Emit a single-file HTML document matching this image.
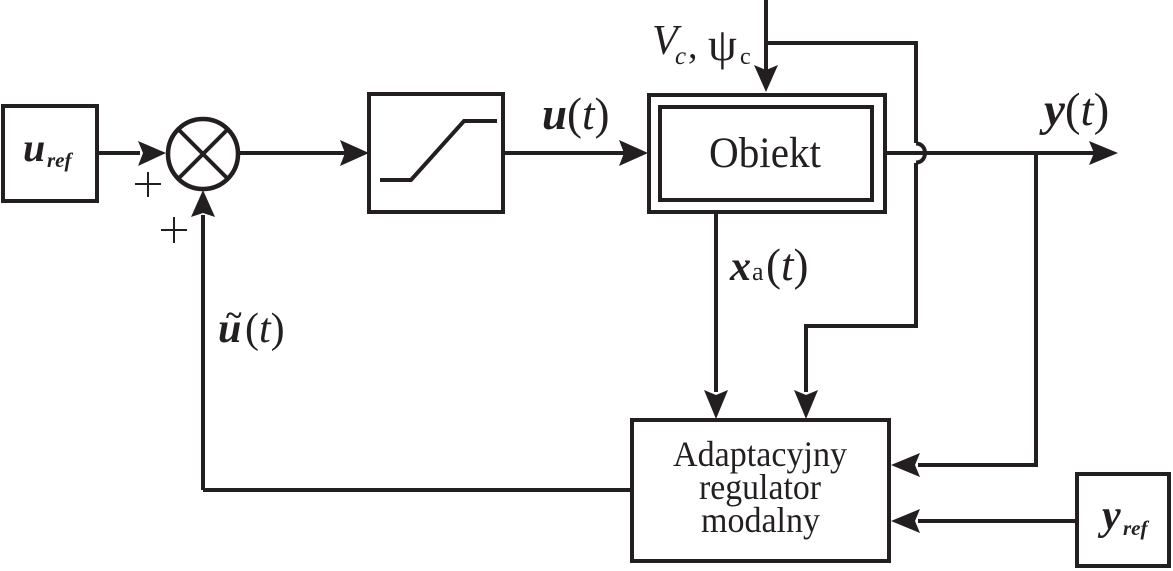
<!DOCTYPE html>
<html><head><meta charset="utf-8"><style>
html,body{margin:0;padding:0;background:#fff;width:1173px;height:571px;overflow:hidden}
svg{display:block}
text{font-family:"Liberation Serif",serif;fill:#231f20}
</style></head><body>
<svg width="1173" height="571" viewBox="0 0 1173 571" xmlns="http://www.w3.org/2000/svg">
<g fill="none" stroke="#231f20" stroke-width="4">
<rect x="3" y="106" width="94" height="95"/>
<circle cx="203" cy="154" r="35" stroke-width="4.500"/>
<path d="M179 130L227 178M227 130L179 178" stroke-width="4"/>
<rect x="369" y="94" width="134" height="118"/>
<rect x="649" y="95" width="236" height="117"/>
<rect x="660" y="107" width="212" height="93"/>
<rect x="632" y="420" width="257" height="141"/>
<rect x="1077" y="474" width="92" height="92"/>
<path d="M380 180H411L464 121H497" stroke-width="4"/>
<path d="M97 153H140M238 153H345M503 153H625M885 153H1095"/>
<path d="M766 0V70M766 43H916V143M916 163V326H806V392"/>
<path d="M916 143.500C928 143.500 928 162.500 916 162.500" stroke-width="4"/>
<path d="M716 212V392"/>
<path d="M203 490V215M203 490H632"/>
<path d="M1036 153V465H918"/>
<path d="M1077 521H918"/>
<path d="M135 184H161M148 172V197" stroke-width="2"/>
<path d="M161 230H187M174 217V243" stroke-width="2"/>
</g>
<g fill="#231f20">
<path d="M166 153L138 141L143 153L138 166Z"/>
<path d="M203 190L191 217L203 213L215 217Z"/>
<path d="M369 153L340 140L345 153L340 166Z"/>
<path d="M648 153L619 140L624 153L619 166Z"/>
<path d="M766 92L754 65L766 70L778 65Z"/>
<path d="M1118 153L1089 141L1094 153L1089 165Z"/>
<path d="M716 419L704 390L716 395L728 390Z"/>
<path d="M806 419L794 390L806 395L818 390Z"/>
<path d="M891 465L920 453L915 465L920 477Z"/>
<path d="M891 521L920 509L915 521L920 533Z"/>
</g>
<text x="23" y="161" font-size="40" font-weight="bold" font-style="italic">u</text>
<text x="47" y="167" font-size="21" font-weight="bold" font-style="italic">ref</text>
<text x="1102" y="529" font-size="42" font-weight="bold" font-style="italic">y</text>
<text x="1123" y="535" font-size="21" font-weight="bold" font-style="italic">ref</text>
<text x="542" y="129" font-size="45"><tspan font-weight="bold" font-style="italic">u</tspan>(<tspan font-style="italic">t</tspan>)</text>
<text x="1044" y="125" font-size="47"><tspan font-weight="bold" font-style="italic">y</tspan>(<tspan font-style="italic">t</tspan>)</text>
<text x="218" y="342" font-size="42" font-weight="bold" font-style="italic">u</text>
<text x="226" y="325" font-size="30" font-weight="bold">~</text>
<text x="245" y="342" font-size="42">(<tspan font-style="italic">t</tspan>)</text>
<text x="730" y="280" font-size="42" font-weight="bold" font-style="italic">x</text>
<text x="752" y="280" font-size="26">a</text>
<text x="766" y="280" font-size="45">(<tspan font-style="italic">t</tspan>)</text>
<text x="652" y="54" font-size="42" font-style="italic">V</text>
<text x="675" y="64" font-size="25" font-style="italic">c</text>
<text x="688" y="58" font-size="38">,</text>
<text x="708" y="60" font-size="46" font-family="DejaVu Serif, serif">ψ</text>
<text x="740" y="64" font-size="24">c</text>
<text x="709" y="167" font-size="43" textLength="112" lengthAdjust="spacingAndGlyphs">Obiekt</text>
<text x="673" y="466" font-size="36" textLength="174" lengthAdjust="spacingAndGlyphs">Adaptacyjny</text>
<text x="699" y="499" font-size="36" textLength="122" lengthAdjust="spacingAndGlyphs">regulator</text>
<text x="701" y="532" font-size="36" textLength="119" lengthAdjust="spacingAndGlyphs">modalny</text>
</svg>
</body></html>
